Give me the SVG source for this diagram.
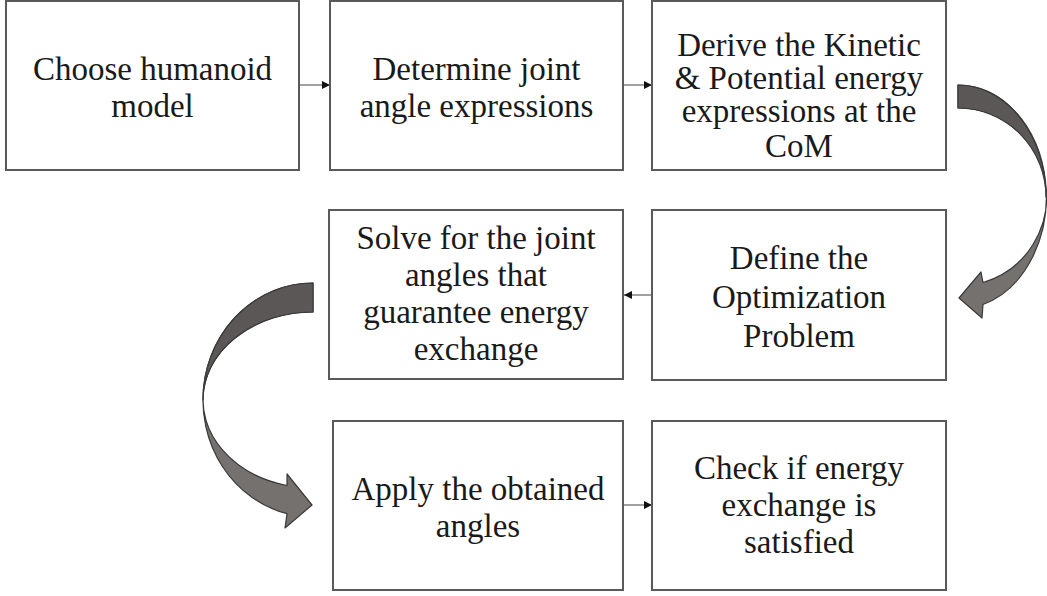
<svg xmlns="http://www.w3.org/2000/svg" width="1047" height="596" viewBox="0 0 1047 596">
  <style>
    .box { fill: #ffffff; stroke: #5a5a5a; stroke-width: 2; }
    .label { font-family: "Liberation Serif", "Times New Roman", serif; font-size: 33px; fill: #1a1a1a; text-anchor: middle; }
    .link { stroke: #8a8a8a; stroke-width: 1.6; fill: none; marker-end: url(#head); }
    .bend { stroke: #3a3a3a; stroke-width: 1.2; stroke-linejoin: round; }
    .bend-front { fill: #75716f; }
    .bend-back { fill: #5b5756; }
  </style>
  <defs>
    <marker id="head" viewBox="0 0 10 10" refX="10" refY="5" markerWidth="9" markerHeight="8" markerUnits="userSpaceOnUse" orient="auto">
      <path d="M0,0 L10,5 L0,10 Z" fill="#111111"/>
    </marker>
  </defs>
  <rect width="1047" height="596" fill="#ffffff"/>

  <!-- straight connectors between neighbouring steps -->
  <g id="connectors">
    <line class="link" x1="300" y1="85" x2="330" y2="85"/>
    <line class="link" x1="624" y1="85" x2="652" y2="85"/>
    <line class="link" x1="652" y1="295" x2="624" y2="295"/>
    <line class="link" x1="624" y1="505" x2="652" y2="505"/>

    <!-- curved ribbon arrow on the right: row 1 down to row 2 -->
    <g id="bend-right">
      <path class="bend bend-front" d="M958,85 A88,112 0 0 1 983,304.5 L982,318 L959,298 L981,272 L983,282.5 A88,89 0 0 0 958,108 Z"/>
      <path class="bend bend-back" d="M958,85 A88,112 0 0 1 1046,197 A88,89 0 0 0 958,108 Z"/>
    </g>
    <!-- curved ribbon arrow on the left: row 2 down to row 3 -->
    <g id="bend-left">
      <path class="bend bend-front" d="M313,283 A110,117 0 0 0 287,513.7 L285,528 L312,505 L287,474 L287,485.5 A110,88 0 0 1 313,312 Z"/>
      <path class="bend bend-back" d="M313,283 A110,117 0 0 0 203,400 A110,88 0 0 1 313,312 Z"/>
    </g>
  </g>

  <g id="step-model">
    <rect class="box" x="6" y="1" width="293" height="169"/>
    <text class="label" x="152.5" y="80">Choose humanoid</text>
    <text class="label" x="152.5" y="117">model</text>
  </g>

  <g id="step-joints">
    <rect class="box" x="330" y="1" width="293" height="169"/>
    <text class="label" x="476.5" y="80">Determine joint</text>
    <text class="label" x="476.5" y="117">angle expressions</text>
  </g>

  <g id="step-energy">
    <rect class="box" x="652" y="1" width="294" height="169"/>
    <text class="label" x="799" y="56">Derive the Kinetic</text>
    <text class="label" x="799" y="89">&amp; Potential energy</text>
    <text class="label" x="799" y="122">expressions at the</text>
    <text class="label" x="799" y="157">CoM</text>
  </g>

  <g id="step-optimize">
    <rect class="box" x="652" y="210" width="294" height="170"/>
    <text class="label" x="799" y="269">Define the</text>
    <text class="label" x="799" y="308">Optimization</text>
    <text class="label" x="799" y="347">Problem</text>
  </g>

  <g id="step-solve">
    <rect class="box" x="329" y="210" width="294" height="169"/>
    <text class="label" x="476" y="249">Solve for the joint</text>
    <text class="label" x="476" y="286">angles that</text>
    <text class="label" x="476" y="323">guarantee energy</text>
    <text class="label" x="476" y="360">exchange</text>
  </g>

  <g id="step-apply">
    <rect class="box" x="333" y="421" width="290" height="169"/>
    <text class="label" x="478" y="500">Apply the obtained</text>
    <text class="label" x="478" y="537">angles</text>
  </g>

  <g id="step-check">
    <rect class="box" x="652" y="421" width="294" height="169"/>
    <text class="label" x="799" y="479">Check if energy</text>
    <text class="label" x="799" y="516">exchange is</text>
    <text class="label" x="799" y="553">satisfied</text>
  </g>
</svg>
